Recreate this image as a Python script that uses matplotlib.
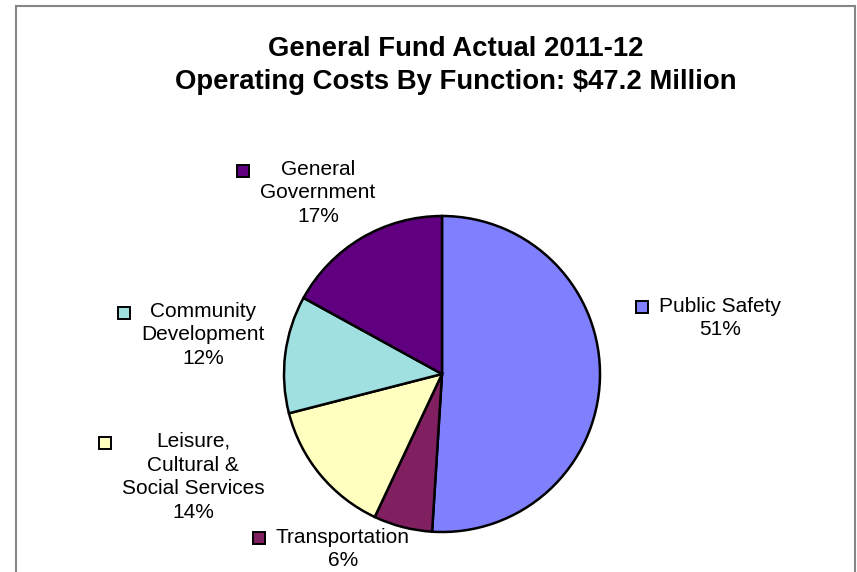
import matplotlib
matplotlib.use('Agg')
import matplotlib.pyplot as plt
from matplotlib.patches import Rectangle

plt.rcParams['font.family'] = ['Liberation Sans', 'DejaVu Sans']

W, H = 857, 572

title = 'General Fund Actual 2011-12\nOperating Costs By Function: $47.2 Million'
categories = ['Public Safety', 'Transportation', 'Leisure,\nCultural &\nSocial Services',
              'Community\nDevelopment', 'General\nGovernment']
shares = [51, 6, 14, 12, 17]
colors = ['#8080FF', '#802060', '#FFFFC0', '#A0E0E0', '#600080']

# label block centres, in pixels from the top-left corner
label_pos = [(720, 318), (343, 549), (193, 477), (203, 335), (318, 193)]


def px(x, y):
    return x, H - y


fig = plt.figure(figsize=(W / 100, H / 100), dpi=100)
ax = fig.add_axes([0, 0, 1, 1])

# chart area frame (runs past the bottom edge)
ax.add_patch(Rectangle(px(16.5, 600), 839, 594.5, fill=False,
                       edgecolor='#858585', linewidth=1.5))

ax.pie(shares, colors=colors, startangle=90, counterclock=False,
       center=px(442, 374), radius=158, frame=True,
       wedgeprops=dict(edgecolor='black', linewidth=1.8))
ax.set_xlim(0, W)
ax.set_ylim(0, H)
ax.axis('off')

ax.text(*px(456, 65.5), title, ha='center', va='center', fontsize=19.8,
        fontweight='bold', linespacing=1.32)

fig.canvas.draw()
renderer = fig.canvas.get_renderer()
inv = ax.transData.inverted()

for name, val, col, (cx, cy) in zip(categories, shares, colors, label_pos):
    t = ax.text(*px(cx, cy), f'{name}\n{val}%', ha='center', va='center',
                fontsize=15, multialignment='center', linespacing=1.32)
    bb = t.get_window_extent(renderer)
    n_lines = name.count('\n') + 2
    line_h = bb.height / n_lines
    x0, y1 = inv.transform((bb.x0, bb.y1))
    ax.plot(x0 - 17, y1 - line_h / 2, marker='s', markersize=8.3,
            markerfacecolor=col, markeredgecolor='black', markeredgewidth=1.4)

fig.savefig('out.png', dpi=100)
